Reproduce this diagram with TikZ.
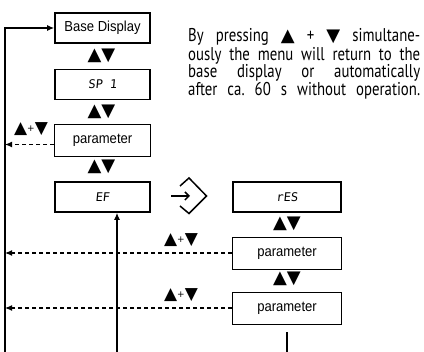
\documentclass[tikz,border=0pt]{standalone}
\usepackage{fontspec}
\setmainfont{Liberation Sans}
\newfontfamily\boxfont[FakeStretch=0.9]{Liberation Sans}
\newfontfamily\notefont[FakeStretch=0.8]{PT Sans}
\newfontfamily\symfont{DejaVu Sans}
\newfontfamily\segfont[FakeSlant=0.1]{DejaVu Sans Mono}
\usetikzlibrary{arrows.meta,calc}
\frenchspacing
\begin{document}
\begin{tikzpicture}[x=1pt,y=-1pt,
  thickbox/.style={draw, line width=1.8pt, minimum width=95pt, minimum height=30pt, inner sep=0pt},
  dispbox/.style={thickbox, font=\segfont\fontsize{12}{12}\selectfont},
  basebox/.style={thickbox, font=\boxfont\fontsize{14.5}{15}\selectfont},
  parbox/.style={draw, line width=0.9pt, minimum width=96pt, minimum height=32pt, inner sep=0pt, font=\boxfont\fontsize{14.5}{15}\selectfont},
  ud/.style={font=\symfont\fontsize{18}{18}\selectfont, inner sep=0pt},
  combo/.style={font=\symfont\fontsize{17}{17}\selectfont, inner sep=0pt},
  conn/.style={line width=1.1pt, -{Latex[length=7pt,width=6pt]}},
  dconn/.style={line width=1.1pt, dash pattern=on 4pt off 3pt, -{Latex[length=7pt,width=6pt]}},
  note/.style={anchor=base west, inner sep=0pt, font=\notefont\fontsize{18.5}{16.5}\selectfont}
]
\useasboundingbox (0,0) rectangle (424,352);

% left column
\node[basebox] (base) at (102.5,28) {Base Display};
\node[ud] (ud1) at (101.5,56) {▲▼};
\node[dispbox] (sp) at (102.5,84.5) {SP 1};
\node[ud] (ud2) at (101.5,112) {▲▼};
\node[parbox] (p1) at (102.5,140.5) {parameter};
\node[ud] (ud3) at (101.5,167) {▲▼};
\node[dispbox] (ef) at (102.5,197) {EF};

% right column
\node[dispbox, minimum width=108pt] (res) at (287,197) {rES};
\node[ud] (ud4) at (287,224) {▲▼};
\node[parbox, minimum width=109pt] (p2) at (287,253) {parameter};
\node[ud] (ud5) at (287,279) {▲▼};
\node[parbox, minimum width=109pt] (p3) at (287,308) {parameter};

% combo labels
\node[combo] (c1) at (31,129) {▲{\fontsize{9}{9}\selectfont\raisebox{1.5pt}{+}}▼};
\node[combo] (c2) at (181,240) {▲{\fontsize{9}{9}\selectfont\raisebox{1.5pt}{+}}▼};
\node[combo] (c3) at (181,295) {▲{\fontsize{9}{9}\selectfont\raisebox{1.5pt}{+}}▼};

% enter symbol
\coordinate (en) at (190,196);
\draw[line width=1.5pt, line join=miter] (180,186) -- (189,178) -- (206.5,196) -- (189,213.5) -- (180,206);
\draw[line width=1.5pt, -{Straight Barb[length=4pt,width=8pt]}] (171,196) -- (en);

% connectors
\coordinate (lb) at (5,352);
\coordinate (efb) at (117,352);
\coordinate (p3b) at (287,352);
\coordinate (p1d) at ($(p1.west)+(0,4)$);
\coordinate (p3t) at ($(p3.south)+(0,8)$);
\draw[conn] (lb) |- (base.west);
\draw[dconn] (p1d) -- (p1d -| lb);
\draw[dconn] (p2.west) -- (p2.west -| lb);
\draw[dconn] (p3.west) -- (p3.west -| lb);
\draw[conn] (efb) -- (efb |- ef.south);
\draw[line width=1.1pt] (p3t) -- (p3b);

% note
\node[note] (n) at (188,42) {\parbox[t]{232pt}{\baselineskip=16.5pt\parindent=0pt
\makebox[232pt][s]{By pressing {\symfont\fontsize{18}{18}\selectfont▲} + {\symfont\fontsize{18}{18}\selectfont▼} simultane-}\par
\makebox[232pt][s]{ously the menu will return to the}\par
\makebox[232pt][s]{base display or automatically}\par
\makebox[232pt][s]{after ca. 60 s without operation.}}};
\end{tikzpicture}
\end{document}
